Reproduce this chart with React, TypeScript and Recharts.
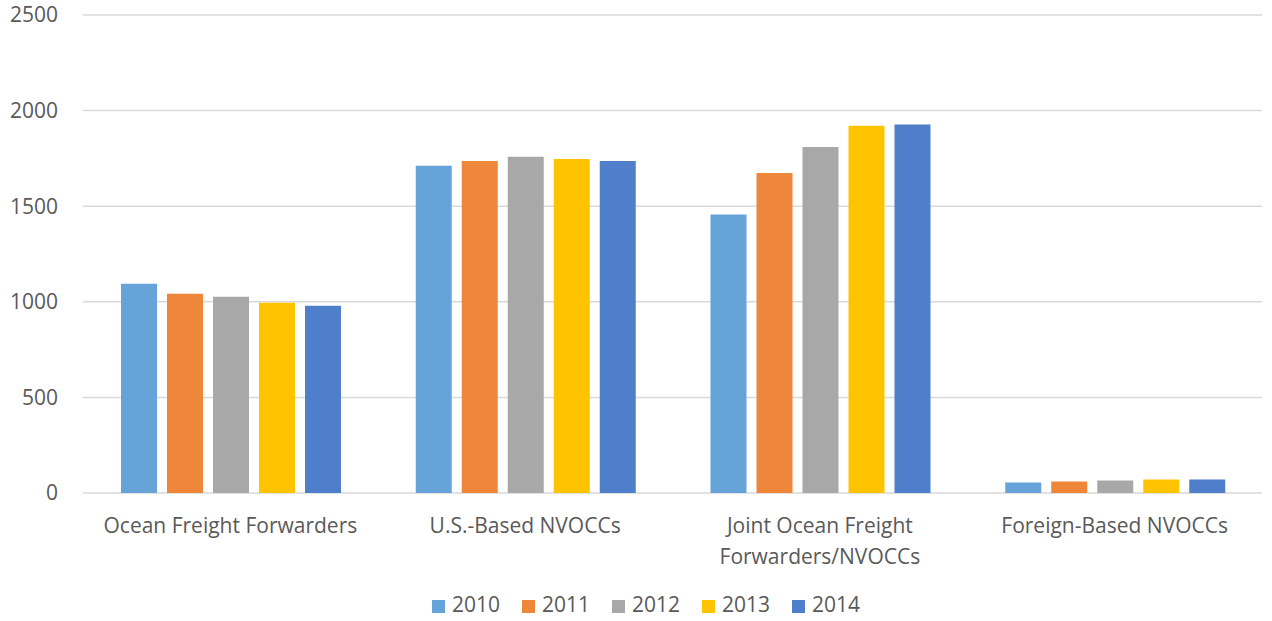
import { BarChart, Bar, XAxis, YAxis, CartesianGrid, Legend } from 'recharts'

const categories = [
  'Ocean Freight Forwarders',
  'U.S.-Based NVOCCs',
  'Joint Ocean Freight\nForwarders/NVOCCs',
  'Foreign-Based NVOCCs',
]

const years = ['2010', '2011', '2012', '2013', '2014']

const v2010 = [1094, 1712, 1457, 55]
const v2011 = [1042, 1737, 1674, 60]
const v2012 = [1026, 1758, 1810, 65]
const v2013 = [995, 1747, 1921, 70]
const v2014 = [979, 1737, 1927, 70]

const yTicks = [0, 500, 1000, 1500, 2000, 2500]

const COLORS = ['#66A3D9', '#EE873A', '#A8A8A8', '#FFC300', '#4F7ECA']
const TEXT = '#595959'
const FONT = '"Open Sans", "Noto Sans", sans-serif'

const seriesValues = [v2010, v2011, v2012, v2013, v2014]

const data = categories.map((name, i) => {
  const row: Record<string, string | number> = { name }
  years.forEach((y, k) => { row[y] = seriesValues[k][i] })
  return row
})

function CategoryTick({ x, y, payload }: any) {
  const lines = String(payload.value).split('\n')
  return (
    <text x={x} y={y} textAnchor="middle" fill={TEXT} fontSize={21} fontFamily={FONT}>
      {lines.map((line, i) => (
        <tspan key={i} x={x} dy={i === 0 ? 32 : 31}>{line}</tspan>
      ))}
    </text>
  )
}

export default function App() {
  return (
    <div style={{ position: 'fixed', left: 0, top: 0, width: 1272, height: 621, background: '#fff' }}>
      <BarChart
        width={1272}
        height={621}
        data={data}
        margin={{ top: 15, right: 10, left: 0, bottom: 0 }}
        barCategoryGap={38}
        barGap={10}
      >
        <CartesianGrid vertical={false} stroke="#D9D9D9" strokeWidth={1.5} />
        <XAxis
          dataKey="name"
          axisLine={false}
          tickLine={false}
          interval={0}
          height={86}
          tick={<CategoryTick />}
        />
        <YAxis
          width={83}
          domain={[0, 2500]}
          ticks={yTicks}
          axisLine={false}
          tickLine={false}
          tickMargin={19}
          tick={{ fill: TEXT, fontSize: 21, fontFamily: FONT }}
        />
        <Legend
          verticalAlign="bottom"
          align="center"
          iconType="square"
          iconSize={13}
          height={42}
          wrapperStyle={{ fontFamily: FONT, fontSize: 21, top: 590, bottom: 'auto', paddingLeft: 26 }}
          formatter={(value: string) => (
            <span style={{ color: TEXT, marginLeft: 3, marginRight: 12 }}>{value}</span>
          )}
        />
        {years.map((y, k) => (
          <Bar key={y} dataKey={y} fill={COLORS[k]} isAnimationActive={false} />
        ))}
      </BarChart>
    </div>
  )
}
